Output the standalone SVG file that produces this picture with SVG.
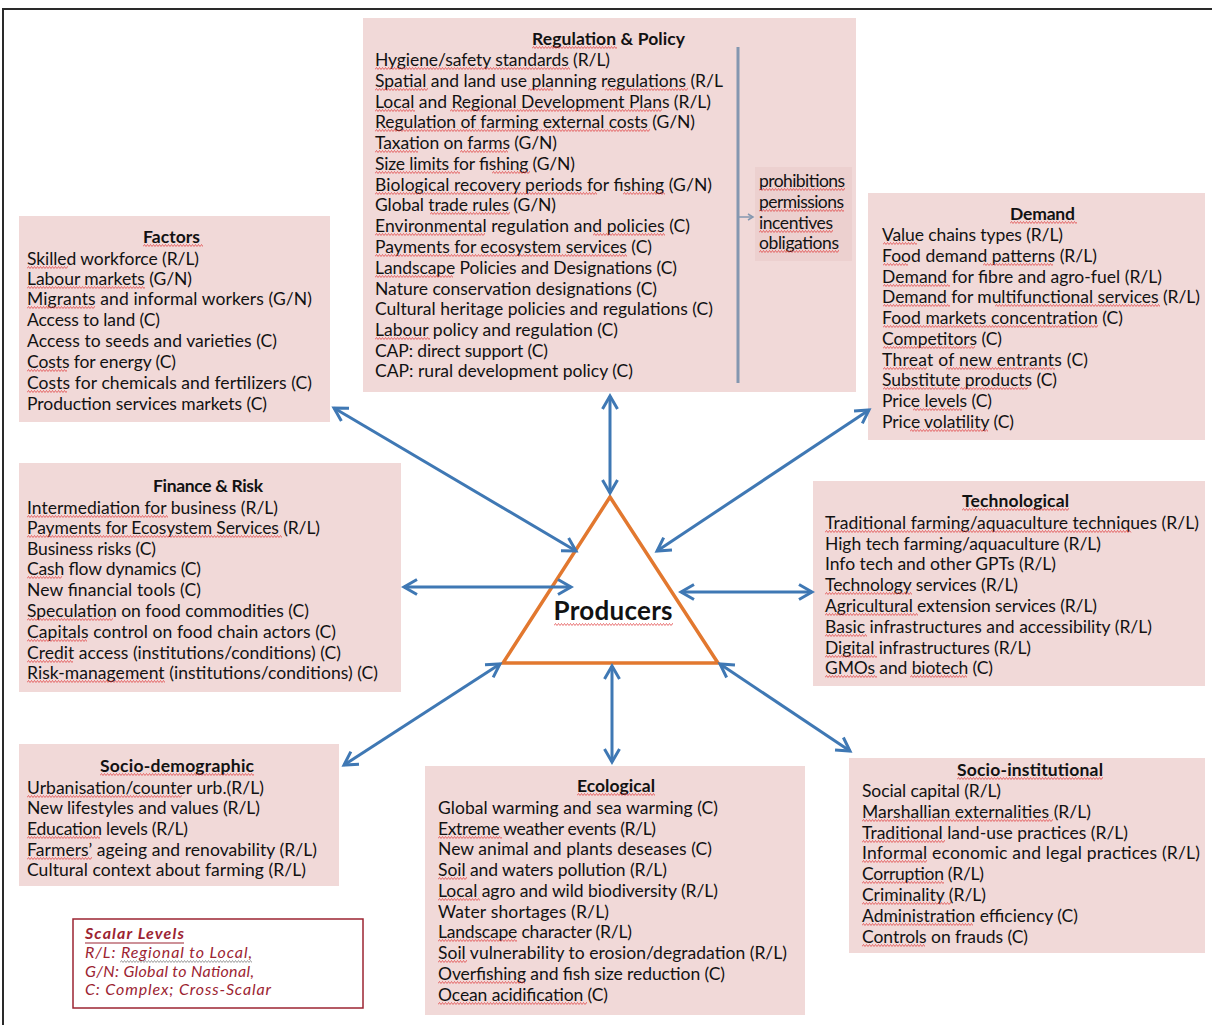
<svg xmlns="http://www.w3.org/2000/svg" xmlns:xlink="http://www.w3.org/1999/xlink" width="1212" height="1025" viewBox="0 0 1212 1025">
  <style>
    .bx { fill: #f1d9d8; }
    .sub { fill: #ecd0cf; }
    .t { font-family: Lato, "Open Sans", "Liberation Sans", sans-serif; font-size: 17.5px; fill: #121212; transform: translateY(1.5px); }
    .h { font-weight: bold; }
    .big { font-size: 26px; font-weight: bold; text-anchor: middle; }
    .lg { font-family: Lato, "Open Sans", "Liberation Sans", sans-serif; font-size: 16px; font-style: italic; fill: #9c2432; }
    .conn { stroke: #3f78b4; stroke-width: 3; fill: none; marker-start: url(#head); marker-end: url(#head); }
    .wv { fill: none; stroke: #e0383a; stroke-width: 0.8; stroke-opacity: 0.85; }
    .wvg { fill: none; stroke: #8a8a8a; stroke-width: 0.8; }
  </style>
  <defs>
    <marker id="head" viewBox="-15 -10 18 20" markerWidth="18" markerHeight="20" refX="0" refY="0" orient="auto-start-reverse" markerUnits="userSpaceOnUse">
      <path d="M-13,-7.5 L0,0 L-13,7.5" fill="none" stroke="#3f78b4" stroke-width="3"/>
    </marker>
    <marker id="tick" viewBox="-8 -5 10 10" markerWidth="10" markerHeight="10" refX="0" refY="0" orient="auto" markerUnits="userSpaceOnUse">
      <path d="M-5,-3 L0,0 L-5,3" fill="none" stroke="#8497b0" stroke-width="1.5"/>
    </marker>
    <!-- long wavy stroke, clipped to word width where used -->
    <path id="wave" d="M0,3l1.5-2 1.5 2 1.5-2 1.5 2 1.5-2 1.5 2 1.5-2 1.5 2 1.5-2 1.5 2 1.5-2 1.5 2 1.5-2 1.5 2 1.5-2 1.5 2 1.5-2 1.5 2 1.5-2 1.5 2 1.5-2 1.5 2 1.5-2 1.5 2 1.5-2 1.5 2 1.5-2 1.5 2 1.5-2 1.5 2 1.5-2 1.5 2 1.5-2 1.5 2 1.5-2 1.5 2 1.5-2 1.5 2 1.5-2 1.5 2 1.5-2 1.5 2 1.5-2 1.5 2 1.5-2 1.5 2 1.5-2 1.5 2 1.5-2 1.5 2 1.5-2 1.5 2 1.5-2 1.5 2 1.5-2 1.5 2 1.5-2 1.5 2 1.5-2 1.5 2 1.5-2 1.5 2 1.5-2 1.5 2 1.5-2 1.5 2 1.5-2 1.5 2 1.5-2 1.5 2 1.5-2 1.5 2 1.5-2 1.5 2 1.5-2 1.5 2 1.5-2 1.5 2 1.5-2 1.5 2 1.5-2 1.5 2 1.5-2 1.5 2 1.5-2 1.5 2 1.5-2 1.5 2 1.5-2 1.5 2 1.5-2 1.5 2 1.5-2 1.5 2 1.5-2 1.5 2 1.5-2 1.5 2 1.5-2 1.5 2 1.5-2 1.5 2 1.5-2 1.5 2 1.5-2 1.5 2 1.5-2 1.5 2 1.5-2 1.5 2 1.5-2 1.5 2 1.5-2 1.5 2 1.5-2 1.5 2 1.5-2 1.5 2 1.5-2 1.5 2 1.5-2 1.5 2 1.5-2 1.5 2 1.5-2 1.5 2 1.5-2 1.5 2 1.5-2 1.5 2 1.5-2 1.5 2 1.5-2 1.5 2 1.5-2 1.5 2 1.5-2 1.5 2 1.5-2 1.5 2 1.5-2 1.5 2 1.5-2 1.5 2 1.5-2 1.5 2 1.5-2 1.5 2 1.5-2 1.5 2 1.5-2 1.5 2 1.5-2 1.5 2 1.5-2 1.5 2 1.5-2 1.5 2 1.5-2 1.5 2 1.5-2 1.5 2 1.5-2 1.5 2 1.5-2 1.5 2 1.5-2 1.5 2 1.5-2 1.5 2 1.5-2 1.5 2 1.5-2 1.5 2 1.5-2 1.5 2 1.5-2 1.5 2 1.5-2 1.5 2 1.5-2 1.5 2 1.5-2 1.5 2 1.5-2 1.5 2 1.5-2 1.5 2 1.5-2 1.5 2 1.5-2 1.5 2 1.5-2 1.5 2 1.5-2 1.5 2 1.5-2 1.5 2 1.5-2 1.5 2 1.5-2 1.5 2 1.5-2 1.5 2"/>
  </defs>

  <rect width="1212" height="1025" fill="#ffffff"/>
  <!-- page frame -->
  <path d="M3,1025 V9 H1212" fill="none" stroke="#2a2a2a" stroke-width="2"/>

  <!-- Regulation & Policy -->
  <g id="regulation">
    <rect class="bx" x="363" y="18" width="493" height="374"/>
    <text class="t h" x="532" y="43" textLength="153">Regulation &amp; Policy</text>
    <text class="t" x="375" y="64" textLength="235">Hygiene/safety standards (R/L)</text>
    <text class="t" x="375" y="85" textLength="348">Spatial and land use planning regulations (R/L</text>
    <text class="t" x="375" y="106" textLength="336">Local and Regional Development Plans (R/L)</text>
    <text class="t" x="375" y="126" textLength="320">Regulation of farming external costs (G/N)</text>
    <text class="t" x="375" y="147" textLength="182">Taxation on farms (G/N)</text>
    <text class="t" x="375" y="168" textLength="200">Size limits for fishing (G/N)</text>
    <text class="t" x="375" y="189" textLength="337">Biological recovery periods for fishing (G/N)</text>
    <text class="t" x="375" y="209" textLength="181">Global trade rules (G/N)</text>
    <text class="t" x="375" y="230" textLength="315">Environmental regulation and policies (C)</text>
    <text class="t" x="375" y="251" textLength="277">Payments for ecosystem services (C)</text>
    <text class="t" x="375" y="272" textLength="302">Landscape Policies and Designations (C)</text>
    <text class="t" x="375" y="293" textLength="282">Nature conservation designations (C)</text>
    <text class="t" x="375" y="313" textLength="338">Cultural heritage policies and regulations (C)</text>
    <text class="t" x="375" y="334" textLength="243">Labour policy and regulation (C)</text>
    <text class="t" x="375" y="355" textLength="173">CAP: direct support (C)</text>
    <text class="t" x="375" y="375" textLength="258">CAP: rural development policy (C)</text>
    <!-- instrument types bracket -->
    <line x1="738" y1="47" x2="738" y2="383" stroke="#8497b0" stroke-width="3"/>
    <line x1="739" y1="217" x2="753" y2="217" stroke="#8497b0" stroke-width="1.5" marker-end="url(#tick)"/>
    <rect class="sub" x="755" y="167" width="97" height="94"/>
    <text class="t" x="759" y="185" textLength="86">prohibitions</text>
    <text class="t" x="759" y="206" textLength="85">permissions</text>
    <text class="t" x="759" y="227" textLength="74">incentives</text>
    <text class="t" x="759" y="247" textLength="80">obligations</text>
  </g>

  <!-- Factors -->
  <g id="factors">
    <rect class="bx" x="19" y="216" width="311" height="206"/>
    <text class="t h" x="143" y="241" textLength="57">Factors</text>
    <text class="t" x="27" y="263" textLength="172">Skilled workforce (R/L)</text>
    <text class="t" x="27" y="283" textLength="165">Labour markets (G/N)</text>
    <text class="t" x="27" y="303" textLength="285">Migrants and informal workers (G/N)</text>
    <text class="t" x="27" y="324" textLength="133">Access to land (C)</text>
    <text class="t" x="27" y="345" textLength="250">Access to seeds and varieties (C)</text>
    <text class="t" x="27" y="366" textLength="149">Costs for energy (C)</text>
    <text class="t" x="27" y="387" textLength="285">Costs for chemicals and fertilizers (C)</text>
    <text class="t" x="27" y="408" textLength="240">Production services markets (C)</text>
  </g>

  <!-- Demand -->
  <g id="demand">
    <rect class="bx" x="868" y="193" width="337" height="247"/>
    <text class="t h" x="1010" y="218" textLength="65">Demand</text>
    <text class="t" x="882" y="239" textLength="181">Value chains types (R/L)</text>
    <text class="t" x="882" y="260" textLength="215">Food demand patterns (R/L)</text>
    <text class="t" x="882" y="281" textLength="280">Demand for fibre and agro-fuel (R/L)</text>
    <text class="t" x="882" y="301" textLength="318">Demand for multifunctional services (R/L)</text>
    <text class="t" x="882" y="322" textLength="241">Food markets concentration (C)</text>
    <text class="t" x="882" y="343" textLength="120">Competitors (C)</text>
    <text class="t" x="882" y="364" textLength="206">Threat of new entrants (C)</text>
    <text class="t" x="882" y="384" textLength="175">Substitute products (C)</text>
    <text class="t" x="882" y="405" textLength="110">Price levels (C)</text>
    <text class="t" x="882" y="426" textLength="132">Price volatility (C)</text>
  </g>

  <!-- Finance & Risk -->
  <g id="finance">
    <rect class="bx" x="19" y="463" width="382" height="229"/>
    <text class="t h" x="153" y="490" textLength="110">Finance &amp; Risk</text>
    <text class="t" x="27" y="512" textLength="251">Intermediation for business (R/L)</text>
    <text class="t" x="27" y="532" textLength="293">Payments for Ecosystem Services (R/L)</text>
    <text class="t" x="27" y="553" textLength="129">Business risks (C)</text>
    <text class="t" x="27" y="573" textLength="174">Cash flow dynamics (C)</text>
    <text class="t" x="27" y="594" textLength="174">New financial tools (C)</text>
    <text class="t" x="27" y="615" textLength="282">Speculation on food commodities (C)</text>
    <text class="t" x="27" y="636" textLength="309">Capitals control on food chain actors (C)</text>
    <text class="t" x="27" y="657" textLength="314">Credit access (institutions/conditions) (C)</text>
    <text class="t" x="27" y="677" textLength="351">Risk-management (institutions/conditions) (C)</text>
  </g>

  <!-- Technological -->
  <g id="technological">
    <rect class="bx" x="813" y="481" width="392" height="205"/>
    <text class="t h" x="962" y="505" textLength="107">Technological</text>
    <text class="t" x="825" y="527" textLength="374">Traditional farming/aquaculture techniques (R/L)</text>
    <text class="t" x="825" y="548" textLength="276">High tech farming/aquaculture (R/L)</text>
    <text class="t" x="825" y="568" textLength="231">Info tech and other GPTs (R/L)</text>
    <text class="t" x="825" y="589" textLength="193">Technology services (R/L)</text>
    <text class="t" x="825" y="610" textLength="272">Agricultural extension services (R/L)</text>
    <text class="t" x="825" y="631" textLength="327">Basic infrastructures and accessibility (R/L)</text>
    <text class="t" x="825" y="652" textLength="206">Digital infrastructures (R/L)</text>
    <text class="t" x="825" y="672" textLength="168">GMOs and biotech (C)</text>
  </g>

  <!-- Socio-demographic -->
  <g id="socio-demographic">
    <rect class="bx" x="19" y="744" width="320" height="142"/>
    <text class="t h" x="100" y="770" textLength="154">Socio-demographic</text>
    <text class="t" x="27" y="792" textLength="237">Urbanisation/counter urb.(R/L)</text>
    <text class="t" x="27" y="812" textLength="233">New lifestyles and values (R/L)</text>
    <text class="t" x="27" y="833" textLength="161">Education levels (R/L)</text>
    <text class="t" x="27" y="854" textLength="290">Farmers’ ageing and renovability (R/L)</text>
    <text class="t" x="27" y="874" textLength="279">Cultural context about farming (R/L)</text>
  </g>

  <!-- Ecological -->
  <g id="ecological">
    <rect class="bx" x="425" y="766" width="380" height="249"/>
    <text class="t h" x="577" y="790" textLength="78">Ecological</text>
    <text class="t" x="438" y="812" textLength="280">Global warming and sea warming (C)</text>
    <text class="t" x="438" y="833" textLength="218">Extreme weather events (R/L)</text>
    <text class="t" x="438" y="853" textLength="274">New animal and plants deseases (C)</text>
    <text class="t" x="438" y="874" textLength="229">Soil and waters pollution (R/L)</text>
    <text class="t" x="438" y="895" textLength="280">Local agro and wild biodiversity (R/L)</text>
    <text class="t" x="438" y="916" textLength="171">Water shortages (R/L)</text>
    <text class="t" x="438" y="936" textLength="194">Landscape character (R/L)</text>
    <text class="t" x="438" y="957" textLength="349">Soil vulnerability to erosion/degradation (R/L)</text>
    <text class="t" x="438" y="978" textLength="287">Overfishing and fish size reduction (C)</text>
    <text class="t" x="438" y="999" textLength="170">Ocean acidification (C)</text>
  </g>

  <!-- Socio-institutional -->
  <g id="socio-institutional">
    <rect class="bx" x="849" y="758" width="356" height="195"/>
    <text class="t h" x="957" y="774" textLength="146">Socio-institutional</text>
    <text class="t" x="862" y="795" textLength="139">Social capital (R/L)</text>
    <text class="t" x="862" y="816" textLength="229">Marshallian externalities (R/L)</text>
    <text class="t" x="862" y="837" textLength="266">Traditional land-use practices (R/L)</text>
    <text class="t" x="862" y="857" textLength="338">Informal economic and legal practices (R/L)</text>
    <text class="t" x="862" y="878" textLength="122">Corruption (R/L)</text>
    <text class="t" x="862" y="899" textLength="124">Criminality (R/L)</text>
    <text class="t" x="862" y="920" textLength="216">Administration efficiency (C)</text>
    <text class="t" x="862" y="941" textLength="166">Controls on frauds (C)</text>
  </g>

  <!-- Scalar levels key -->
  <g id="legend">
    <rect x="73" y="919" width="290" height="89" fill="#ffffff" stroke="#9c2432" stroke-width="1.5"/>
    <text class="lg" x="85" y="939" font-weight="bold" textLength="99">Scalar Levels</text>
    <line x1="85" y1="943" x2="184" y2="943" stroke="#9c2432" stroke-width="1.2"/>
    <text class="lg" x="85" y="958" textLength="167">R/L: Regional to Local,</text>
    <text class="lg" x="85" y="977" textLength="169">G/N: Global to National,</text>
    <text class="lg" x="85" y="995" textLength="186">C: Complex; Cross-Scalar</text>
  </g>

  <!-- Producers -->
  <g id="producers">
    <polygon points="610,497 503,663 718,663" fill="#ffffff" stroke="#e2782f" stroke-width="3.5" stroke-linejoin="miter"/>
    <text class="t big" x="613" y="618" textLength="119">Producers</text>
  </g>

  <!-- wavy underlines: each is a window (x, y, width) onto the shared wave -->
  <g id="wavy-underlines" transform="translate(0,1.5)">
    <svg x="532" y="44" width="85" height="4" overflow="hidden"><use xlink:href="#wave" class="wv"/></svg>
    <svg x="375" y="65" width="195" height="4" overflow="hidden"><use xlink:href="#wave" class="wv"/></svg>
    <svg x="375" y="86" width="53" height="4" overflow="hidden"><use xlink:href="#wave" class="wv"/></svg>
    <svg x="528" y="86" width="25" height="4" overflow="hidden"><use xlink:href="#wave" class="wv"/></svg>
    <svg x="605" y="86" width="83" height="4" overflow="hidden"><use xlink:href="#wave" class="wv"/></svg>
    <svg x="375" y="107" width="40" height="4" overflow="hidden"><use xlink:href="#wave" class="wv"/></svg>
    <svg x="450" y="107" width="212" height="4" overflow="hidden"><use xlink:href="#wave" class="wv"/></svg>
    <svg x="375" y="127" width="275" height="4" overflow="hidden"><use xlink:href="#wave" class="wv"/></svg>
    <svg x="375" y="148" width="43" height="4" overflow="hidden"><use xlink:href="#wave" class="wv"/></svg>
    <svg x="460" y="148" width="48" height="4" overflow="hidden"><use xlink:href="#wave" class="wv"/></svg>
    <svg x="375" y="169" width="85" height="4" overflow="hidden"><use xlink:href="#wave" class="wv"/></svg>
    <svg x="492" y="169" width="38" height="4" overflow="hidden"><use xlink:href="#wave" class="wv"/></svg>
    <svg x="375" y="190" width="222" height="4" overflow="hidden"><use xlink:href="#wave" class="wv"/></svg>
    <svg x="623" y="190" width="42" height="4" overflow="hidden"><use xlink:href="#wave" class="wv"/></svg>
    <svg x="430" y="210" width="80" height="4" overflow="hidden"><use xlink:href="#wave" class="wv"/></svg>
    <svg x="375" y="231" width="110" height="4" overflow="hidden"><use xlink:href="#wave" class="wv"/></svg>
    <svg x="593" y="231" width="72" height="4" overflow="hidden"><use xlink:href="#wave" class="wv"/></svg>
    <svg x="375" y="252" width="252" height="4" overflow="hidden"><use xlink:href="#wave" class="wv"/></svg>
    <svg x="375" y="273" width="78" height="4" overflow="hidden"><use xlink:href="#wave" class="wv"/></svg>
    <svg x="375" y="335" width="55" height="4" overflow="hidden"><use xlink:href="#wave" class="wv"/></svg>
    <svg x="759" y="186" width="86" height="4" overflow="hidden"><use xlink:href="#wave" class="wv"/></svg>
    <svg x="759" y="207" width="85" height="4" overflow="hidden"><use xlink:href="#wave" class="wv"/></svg>
    <svg x="759" y="228" width="74" height="4" overflow="hidden"><use xlink:href="#wave" class="wv"/></svg>
    <svg x="759" y="248" width="80" height="4" overflow="hidden"><use xlink:href="#wave" class="wv"/></svg>

    <svg x="143" y="242" width="60" height="4" overflow="hidden"><use xlink:href="#wave" class="wv"/></svg>
    <svg x="27" y="264" width="41" height="4" overflow="hidden"><use xlink:href="#wave" class="wv"/></svg>
    <svg x="27" y="284" width="118" height="4" overflow="hidden"><use xlink:href="#wave" class="wv"/></svg>
    <svg x="27" y="304" width="68" height="4" overflow="hidden"><use xlink:href="#wave" class="wv"/></svg>
    <svg x="27" y="367" width="40" height="4" overflow="hidden"><use xlink:href="#wave" class="wv"/></svg>
    <svg x="27" y="388" width="40" height="4" overflow="hidden"><use xlink:href="#wave" class="wv"/></svg>

    <svg x="1010" y="219" width="67" height="4" overflow="hidden"><use xlink:href="#wave" class="wv"/></svg>
    <svg x="883" y="240" width="34" height="4" overflow="hidden"><use xlink:href="#wave" class="wv"/></svg>
    <svg x="883" y="261" width="25" height="4" overflow="hidden"><use xlink:href="#wave" class="wv"/></svg>
    <svg x="983" y="261" width="70" height="4" overflow="hidden"><use xlink:href="#wave" class="wv"/></svg>
    <svg x="883" y="282" width="67" height="4" overflow="hidden"><use xlink:href="#wave" class="wv"/></svg>
    <svg x="883" y="302" width="67" height="4" overflow="hidden"><use xlink:href="#wave" class="wv"/></svg>
    <svg x="995" y="302" width="165" height="4" overflow="hidden"><use xlink:href="#wave" class="wv"/></svg>
    <svg x="883" y="323" width="215" height="4" overflow="hidden"><use xlink:href="#wave" class="wv"/></svg>
    <svg x="883" y="344" width="92" height="4" overflow="hidden"><use xlink:href="#wave" class="wv"/></svg>
    <svg x="883" y="365" width="44" height="4" overflow="hidden"><use xlink:href="#wave" class="wv"/></svg>
    <svg x="946" y="365" width="109" height="4" overflow="hidden"><use xlink:href="#wave" class="wv"/></svg>
    <svg x="883" y="385" width="74" height="4" overflow="hidden"><use xlink:href="#wave" class="wv"/></svg>
    <svg x="960" y="385" width="68" height="4" overflow="hidden"><use xlink:href="#wave" class="wv"/></svg>
    <svg x="913" y="406" width="49" height="4" overflow="hidden"><use xlink:href="#wave" class="wv"/></svg>
    <svg x="910" y="427" width="78" height="4" overflow="hidden"><use xlink:href="#wave" class="wv"/></svg>

    <svg x="27" y="513" width="141" height="4" overflow="hidden"><use xlink:href="#wave" class="wv"/></svg>
    <svg x="27" y="533" width="255" height="4" overflow="hidden"><use xlink:href="#wave" class="wv"/></svg>
    <svg x="27" y="574" width="35" height="4" overflow="hidden"><use xlink:href="#wave" class="wv"/></svg>
    <svg x="27" y="616" width="86" height="4" overflow="hidden"><use xlink:href="#wave" class="wv"/></svg>
    <svg x="27" y="637" width="60" height="4" overflow="hidden"><use xlink:href="#wave" class="wv"/></svg>
    <svg x="27" y="658" width="46" height="4" overflow="hidden"><use xlink:href="#wave" class="wv"/></svg>
    <svg x="27" y="678" width="138" height="4" overflow="hidden"><use xlink:href="#wave" class="wv"/></svg>

    <svg x="962" y="506" width="107" height="4" overflow="hidden"><use xlink:href="#wave" class="wv"/></svg>
    <svg x="825" y="528" width="335" height="4" overflow="hidden"><use xlink:href="#wave" class="wv"/></svg>
    <svg x="825" y="590" width="87" height="4" overflow="hidden"><use xlink:href="#wave" class="wv"/></svg>
    <svg x="825" y="611" width="93" height="4" overflow="hidden"><use xlink:href="#wave" class="wv"/></svg>
    <svg x="825" y="632" width="42" height="4" overflow="hidden"><use xlink:href="#wave" class="wv"/></svg>
    <svg x="825" y="653" width="52" height="4" overflow="hidden"><use xlink:href="#wave" class="wv"/></svg>
    <svg x="825" y="673" width="52" height="4" overflow="hidden"><use xlink:href="#wave" class="wv"/></svg>
    <svg x="910" y="673" width="57" height="4" overflow="hidden"><use xlink:href="#wave" class="wv"/></svg>

    <svg x="100" y="771" width="154" height="4" overflow="hidden"><use xlink:href="#wave" class="wv"/></svg>
    <svg x="27" y="793" width="155" height="4" overflow="hidden"><use xlink:href="#wave" class="wv"/></svg>
    <svg x="27" y="834" width="73" height="4" overflow="hidden"><use xlink:href="#wave" class="wv"/></svg>
    <svg x="27" y="855" width="65" height="4" overflow="hidden"><use xlink:href="#wave" class="wv"/></svg>

    <svg x="577" y="791" width="78" height="4" overflow="hidden"><use xlink:href="#wave" class="wv"/></svg>
    <svg x="438" y="834" width="64" height="4" overflow="hidden"><use xlink:href="#wave" class="wv"/></svg>
    <svg x="438" y="875" width="29" height="4" overflow="hidden"><use xlink:href="#wave" class="wv"/></svg>
    <svg x="438" y="896" width="42" height="4" overflow="hidden"><use xlink:href="#wave" class="wv"/></svg>
    <svg x="438" y="937" width="79" height="4" overflow="hidden"><use xlink:href="#wave" class="wv"/></svg>
    <svg x="438" y="958" width="29" height="4" overflow="hidden"><use xlink:href="#wave" class="wv"/></svg>
    <svg x="438" y="979" width="87" height="4" overflow="hidden"><use xlink:href="#wave" class="wv"/></svg>
    <svg x="438" y="1000" width="149" height="4" overflow="hidden"><use xlink:href="#wave" class="wv"/></svg>

    <svg x="957" y="775" width="146" height="4" overflow="hidden"><use xlink:href="#wave" class="wv"/></svg>
    <svg x="862" y="817" width="191" height="4" overflow="hidden"><use xlink:href="#wave" class="wv"/></svg>
    <svg x="862" y="838" width="83" height="4" overflow="hidden"><use xlink:href="#wave" class="wv"/></svg>
    <svg x="862" y="858" width="65" height="4" overflow="hidden"><use xlink:href="#wave" class="wv"/></svg>
    <svg x="862" y="879" width="82" height="4" overflow="hidden"><use xlink:href="#wave" class="wv"/></svg>
    <svg x="862" y="900" width="89" height="4" overflow="hidden"><use xlink:href="#wave" class="wv"/></svg>
    <svg x="862" y="921" width="111" height="4" overflow="hidden"><use xlink:href="#wave" class="wv"/></svg>
    <svg x="862" y="942" width="63" height="4" overflow="hidden"><use xlink:href="#wave" class="wv"/></svg>

    <svg x="120" y="958" width="132" height="4" overflow="hidden"><use xlink:href="#wave" class="wvg"/></svg>
    <svg x="554" y="621" width="119" height="4" overflow="hidden"><use xlink:href="#wave" class="wv"/></svg>
  </g>

  <!-- connectors: two-way links between Producers and each driver group -->
  <g id="connectors">
    <line class="conn" x1="610" y1="396" x2="610" y2="493"/>
    <line class="conn" x1="334" y1="408" x2="576" y2="551"/>
    <line class="conn" x1="869" y1="410" x2="657" y2="551"/>
    <line class="conn" x1="404" y1="587" x2="571" y2="587"/>
    <line class="conn" x1="681" y1="592" x2="812" y2="592"/>
    <line class="conn" x1="344" y1="765" x2="500" y2="664"/>
    <line class="conn" x1="612" y1="666" x2="612" y2="762"/>
    <line class="conn" x1="720" y1="664" x2="850" y2="751"/>
  </g>
</svg>
